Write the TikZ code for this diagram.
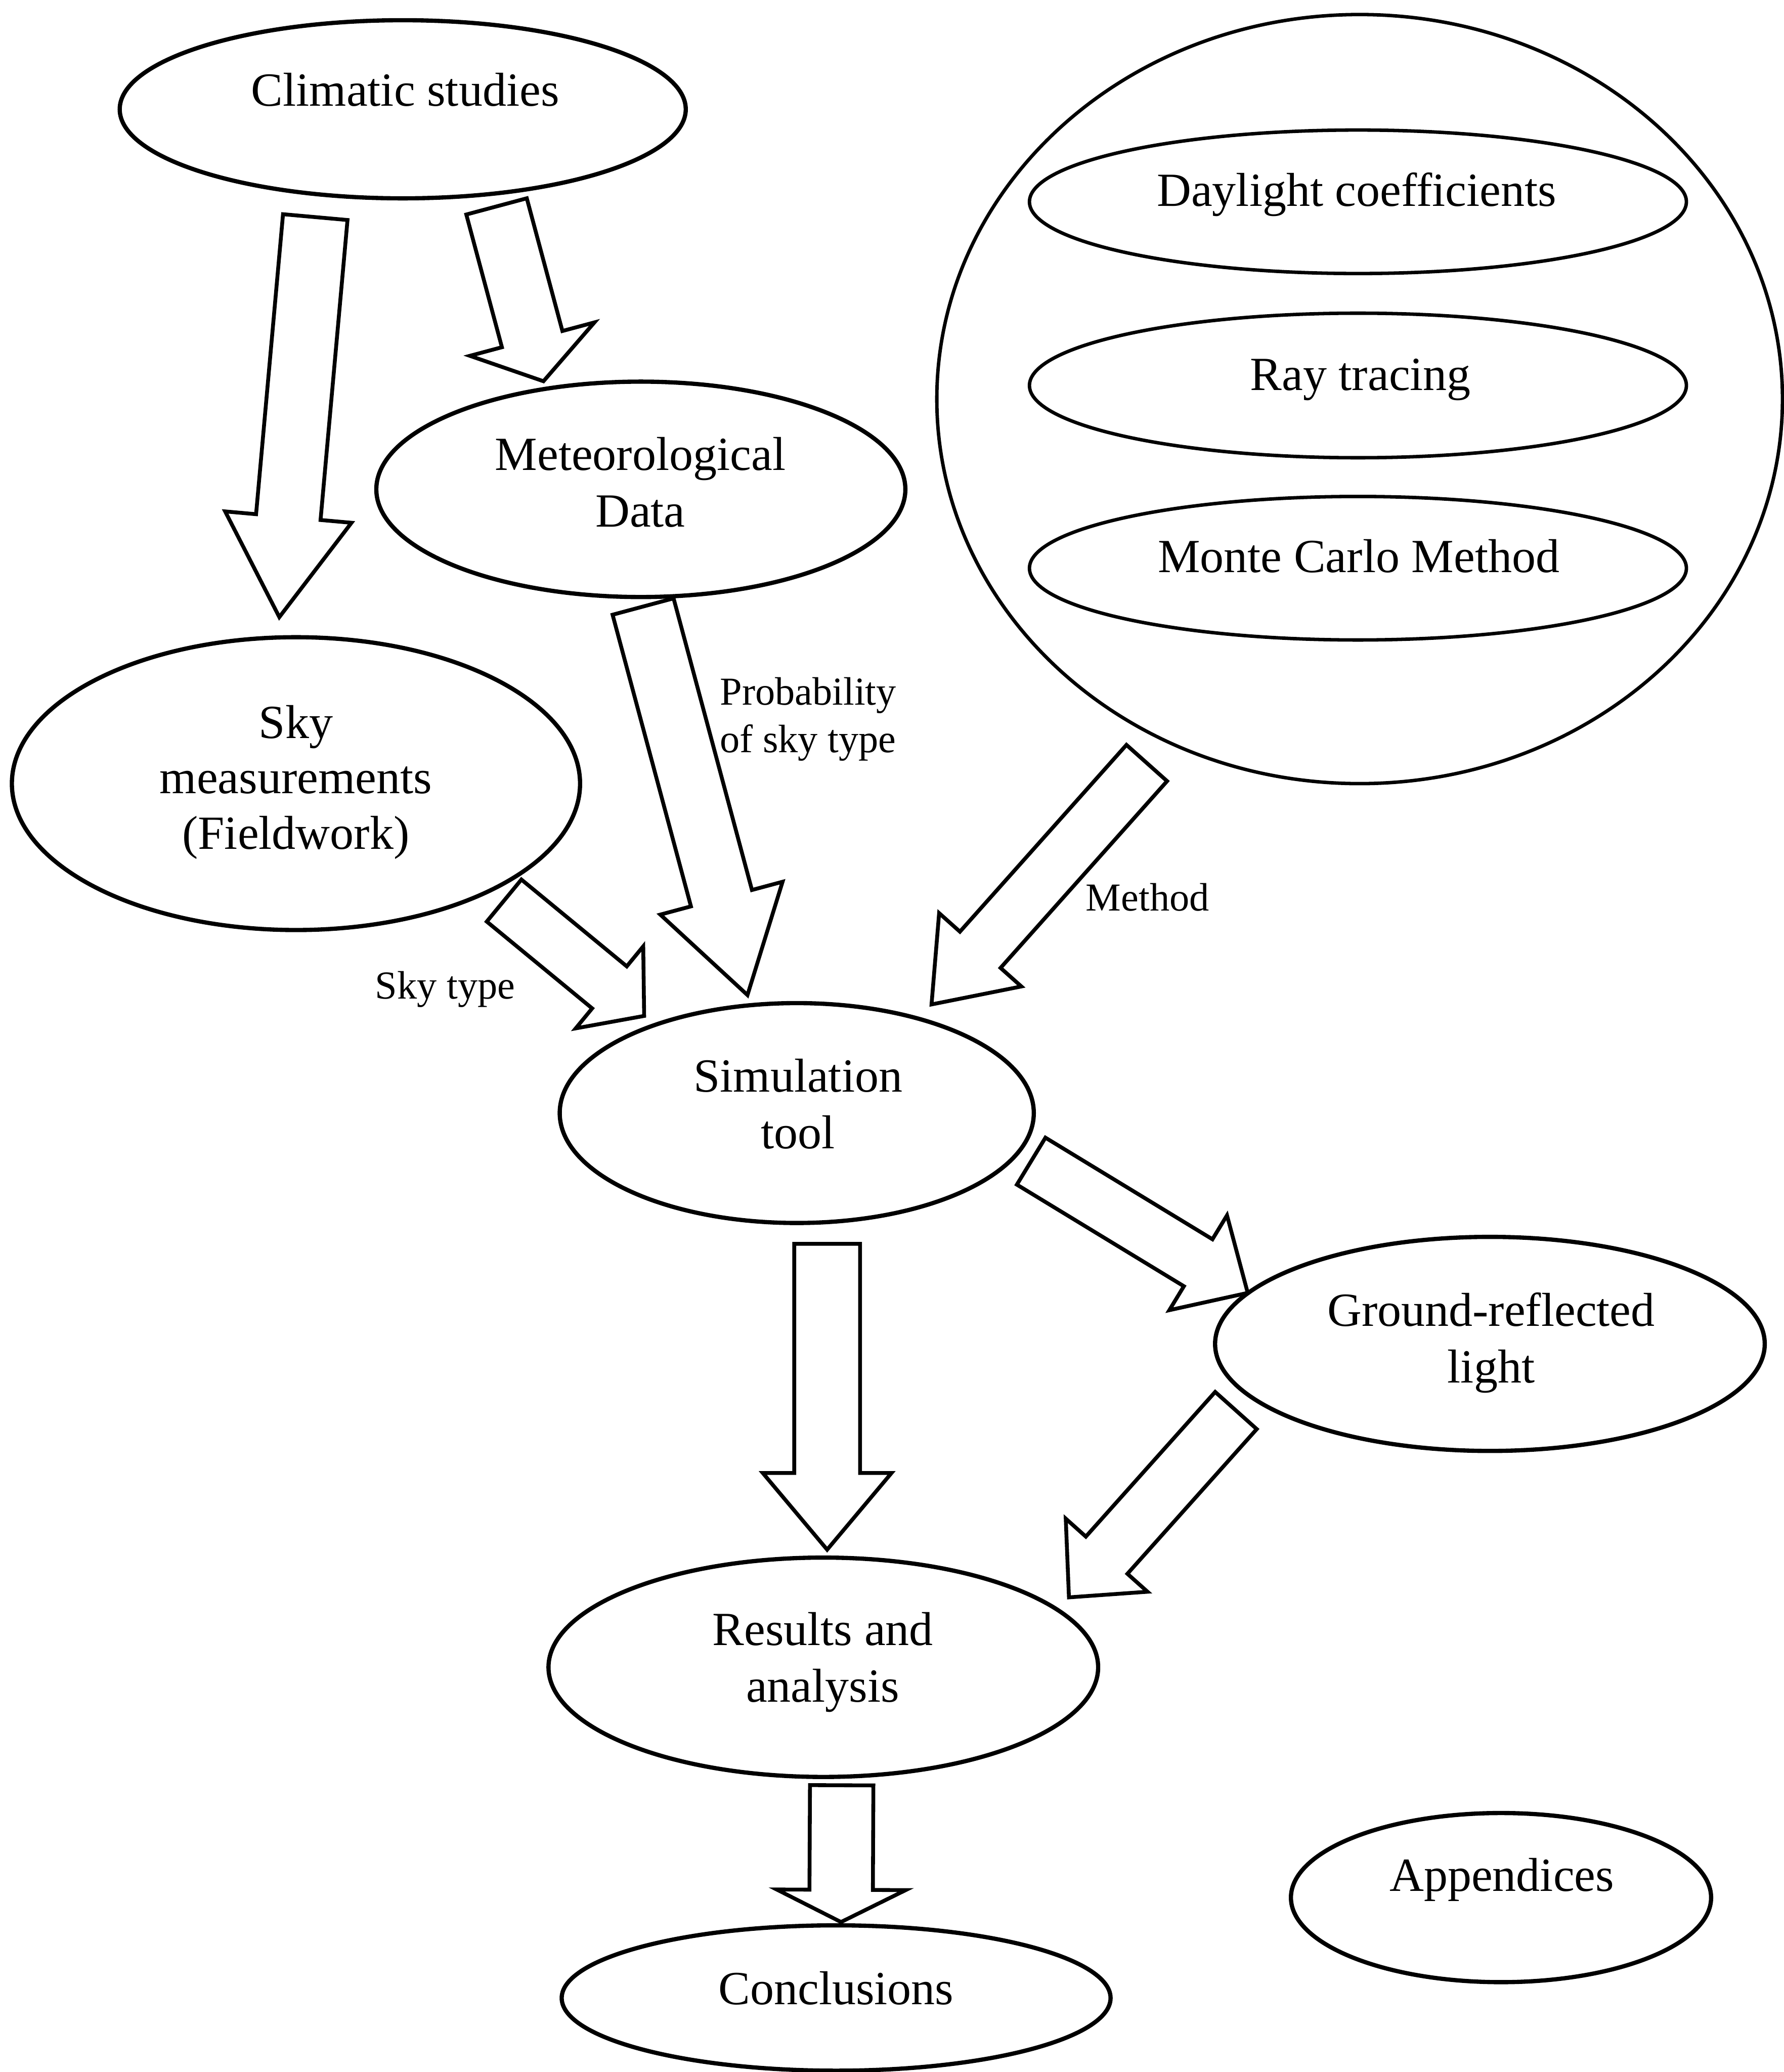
\documentclass[tikz,border=0pt]{standalone}
\usepackage{fontspec}
\setmainfont{Liberation Serif}
\usetikzlibrary{shapes.geometric,calc}
\newcommand{\blockarrow}[5]{% start, tip, shaft half width, head half width, head length
  \path ($(#2)!#5pt!(#1)$) coordinate (bac);
  \draw[barrow] ($(#1)!#3pt!90:(#2)$) -- ($(bac)!#3pt!90:(#2)$) -- ($(bac)!#4pt!90:(#2)$) -- (#2)
    -- ($(bac)!#4pt!-90:(#2)$) -- ($(bac)!#3pt!-90:(#2)$) -- ($(#1)!#3pt!-90:(#2)$) -- cycle;
}
\begin{document}
\begin{tikzpicture}[x=1pt,y=-1pt,
  ell/.style={draw, ellipse, line width=3.2pt, inner sep=0pt},
  bigell/.style={draw, ellipse, line width=2.6pt, inner sep=0pt},
  barrow/.style={draw, line width=2.9pt, fill=white, line join=miter},
  maintxt/.style={font=\fontsize{36}{43}\selectfont, inner sep=0pt, align=center},
  smalltxt/.style={font=\fontsize{30}{36}\selectfont, inner sep=0pt, align=left}]
\useasboundingbox[fill=white] (0,0) rectangle (1350,1568);

% ellipses
\node[ell, minimum width=428.4pt, minimum height=134.8pt] (clim) at (304.8,82.7) {};
\node[ell, minimum width=400.4pt, minimum height=163pt] (met) at (485,370.3) {};
\node[ell, minimum width=430pt, minimum height=221.6pt] (sky) at (224,593) {};
\node[bigell, minimum width=640pt, minimum height=582pt] (meth) at (1029,302) {};
\node[bigell, minimum width=497.2pt, minimum height=108.6pt] (day) at (1027.7,152.7) {};
\node[bigell, minimum width=497.2pt, minimum height=109.4pt] (ray) at (1027.7,291.7) {};
\node[bigell, minimum width=497.2pt, minimum height=108.6pt] (monte) at (1027.7,430) {};
\node[ell, minimum width=358.8pt, minimum height=166.4pt] (sim) at (603,842.3) {};
\node[ell, minimum width=416pt, minimum height=162pt] (ground) at (1127.6,1017) {};
\node[ell, minimum width=416pt, minimum height=166pt] (res) at (623.1,1261.7) {};
\node[ell, minimum width=318pt, minimum height=128pt] (app) at (1136,1436) {};
\node[ell, minimum width=415.4pt, minimum height=110pt] (conc) at (632.8,1512) {};

% texts (anchor base = baseline of the last line)
\node[maintxt, anchor=base] (climt) at (306.7,80.3) {Climatic studies};
\node[maintxt, anchor=base] (mett) at (484.6,398.7) {Meteorological\\Data};
\node[maintxt, anchor=base] (dayt) at (1026.7,155.9) {Daylight coefficients};
\node[maintxt, anchor=base] (rayt) at (1029.7,295.3) {Ray tracing};
\node[maintxt, anchor=base] (montet) at (1028.3,433.1) {Monte Carlo Method};
\node[maintxt, anchor=base, font=\fontsize{36}{42}\selectfont] (skyt) at (223.9,642.6) {Sky\\measurements\\(Fieldwork)};
\node[maintxt, anchor=base] (simt) at (604,869.3) {Simulation\\tool};
\node[maintxt, anchor=base] (groundt) at (1128.5,1046.5) {Ground-reflected\\light};
\node[maintxt, anchor=base] (rest) at (622.7,1288.0) {Results and\\analysis};
\node[maintxt, anchor=base] (appt) at (1136.6,1431.3) {Appendices};
\node[maintxt, anchor=base] (conct) at (632.8,1516.9) {Conclusions};

% arrow end points
\coordinate (a1s) at (238.6,164.3); \coordinate (a1e) at (211.4,467);
\coordinate (a2s) at (375.8,156.2); \coordinate (a2e) at (411.3,288.5);
\coordinate (a3s) at (486.7,459);   \coordinate (a3e) at (565.7,753);
\coordinate (a4s) at (381.5,681.5); \coordinate (a4e) at (487.5,768.8);
\coordinate (a5s) at (867.9,577.4); \coordinate (a5e) at (705,760.1);
\coordinate (a6s) at (626,941.3);   \coordinate (a6e) at (626,1172.7);
\coordinate (a7s) at (780.4,878.7); \coordinate (a7e) at (944.3,978.4);
\coordinate (a8s) at (935.4,1067.4); \coordinate (a8e) at (809,1208.8);
\coordinate (a9s) at (637,1351);    \coordinate (a9e) at (636.5,1454.5);

\blockarrow{a1s}{a1e}{24.5}{48}{76}
\blockarrow{a2s}{a2e}{23.7}{48.8}{33}
\blockarrow{a3s}{a3e}{23.9}{47.9}{75.9}
\blockarrow{a4s}{a4e}{20.6}{40.2}{34}
\blockarrow{a5s}{a5e}{20.6}{41.7}{55.4}
\blockarrow{a6s}{a6e}{24.9}{48.7}{58}
\blockarrow{a7s}{a7e}{20.8}{42}{43.9}
\blockarrow{a8s}{a8e}{21.1}{41.5}{42.8}
\blockarrow{a9s}{a9e}{24}{48.8}{24.4}

% arrow labels
\node[smalltxt, anchor=base west] (probt) at (544.7,569.3) {Probability\\of sky type};
\node[smalltxt, anchor=base] (skytypet) at (336.9,755.9) {Sky type};
\node[smalltxt, anchor=base] (methodt) at (868.5,689.3) {Method};
\end{tikzpicture}
\end{document}
